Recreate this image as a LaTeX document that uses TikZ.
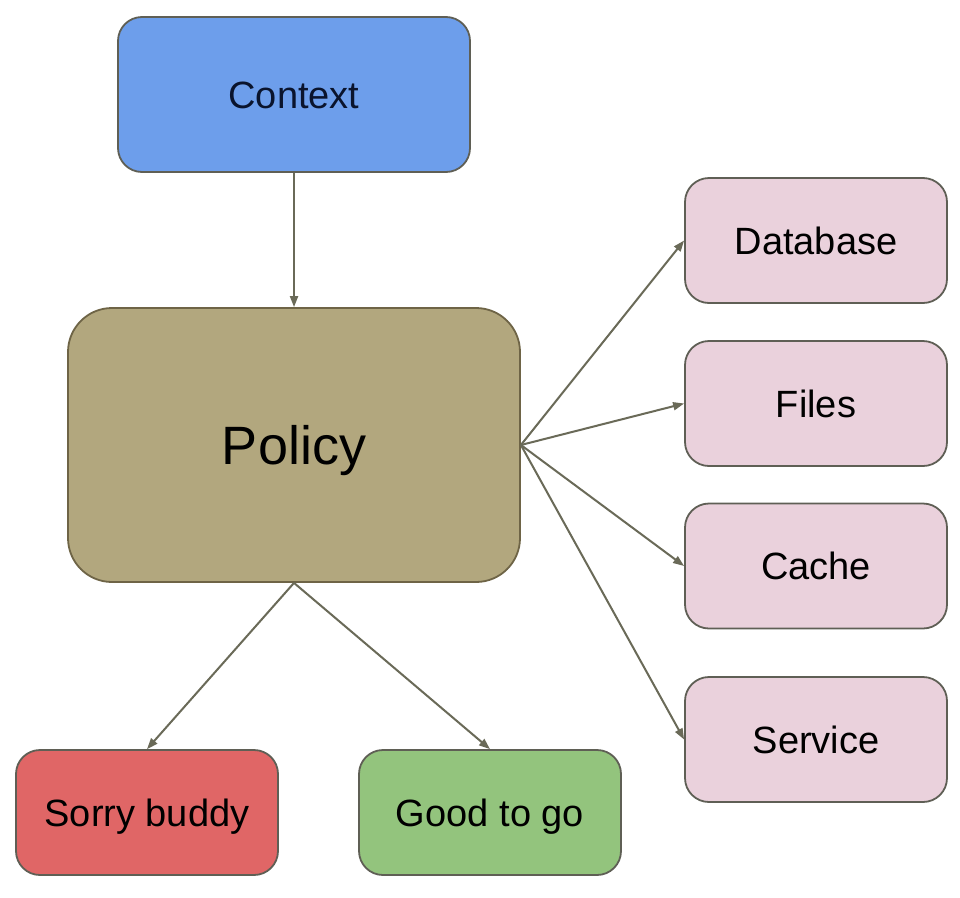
\documentclass[tikz,border=0pt]{standalone}
\usepackage{fontspec}
\setmainfont{Liberation Sans}
\usetikzlibrary{arrows.meta}
\definecolor{ctxblue}{HTML}{6D9EEB}
\definecolor{polfill}{HTML}{B2A77E}
\definecolor{pinkfill}{HTML}{EAD1DC}
\definecolor{redfill}{HTML}{E06666}
\definecolor{greenfill}{HTML}{93C47D}
\definecolor{edgegray}{HTML}{5F5F55}
\definecolor{arrowc}{HTML}{6A6A58}
\begin{document}
\begin{tikzpicture}[x=1pt,y=-1pt,
  box/.style={draw=edgegray, line width=1.8pt, rounded corners=24pt, inner sep=0pt,
    minimum width=262pt, minimum height=125pt, font=\fontsize{38}{44}\selectfont, text=black,
    text height=27.2pt, text depth=0pt},
  conn/.style={draw=arrowc, line width=2pt, -{Triangle[length=11pt,width=8pt]}}]
\useasboundingbox (0,0) rectangle (960,897);
\fill[white] (0,0) rectangle (960,897);
\node[box, fill=ctxblue, minimum width=352pt, minimum height=155pt, text={rgb,255:red,10;green,20;blue,45}] (ctx) at (294,94.5) {Context};
\node[box, fill=polfill, draw={rgb,255:red,110;green,100;blue,70}, minimum width=452pt, minimum height=274pt, rounded corners=44pt, font=\fontsize{54}{60}\selectfont, text height=38.7pt] (pol) at (294,445) {Policy};
\node[box, fill=pinkfill] (db) at (816,240.5) {Database};
\node[box, fill=pinkfill] (files) at (816,403.5) {Files};
\node[box, fill=pinkfill] (cache) at (816,566) {Cache};
\node[box, fill=pinkfill] (svc) at (816,739.5) {Service};
\node[box, fill=redfill] (sorry) at (147,812.5) {Sorry buddy};
\node[box, fill=greenfill] (good) at (490,812.5) {Good to go};
\draw[conn] (ctx.south) -- (pol.north);
\draw[conn] (pol.east) -- (db.west);
\draw[conn] (pol.east) -- (files.west);
\draw[conn] (pol.east) -- (cache.west);
\draw[conn] (pol.east) -- (svc.west);
\draw[conn] (pol.south) -- (sorry.north);
\draw[conn] (pol.south) -- (good.north);
\end{tikzpicture}
\end{document}
